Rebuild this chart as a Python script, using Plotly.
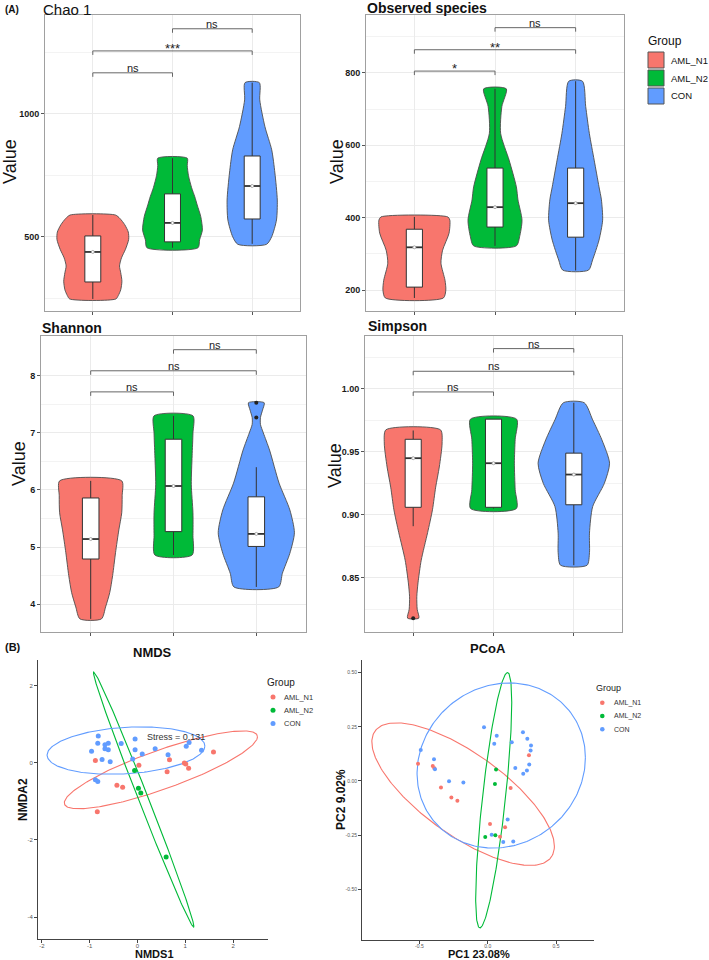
import numpy as np
import plotly.graph_objects as go

FIG_W, FIG_H = 709, 960
FONT = "Liberation Sans, Arial, Helvetica, sans-serif"

GROUPS = ["AML_N1", "AML_N2", "CON"]
COLORS = ["#F8766D", "#00BA38", "#619CFF"]
POS = [1, 2, 3]
SIG_PAIRS = [(1, 2), (1, 3), (2, 3)]

# ---------------- Panel A: alpha diversity ----------------
# violin outlines: value levels and full widths (category units)
CHAO_VY = [[248, 262, 285, 320, 355, 382, 415, 450, 490, 520, 550, 575, 589],
           [456, 488, 528, 582, 630, 663, 700, 750, 790, 820],
           [470, 501, 569, 650, 760, 854, 948, 1057, 1127]]
CHAO_VW = [[0.58, 0.64, 0.70, 0.73, 0.70, 0.67, 0.72, 0.82, 0.90, 0.89, 0.80, 0.68, 0.57],
           [0.64, 0.68, 0.75, 0.71, 0.62, 0.56, 0.48, 0.40, 0.37, 0.37],
           [0.36, 0.49, 0.61, 0.63, 0.57, 0.49, 0.32, 0.19, 0.18]]
CHAO_Q1 = [317, 480, 573]
CHAO_MED = [439, 557, 707]
CHAO_Q3 = [504, 675, 829]
CHAO_LO = [248, 456, 472]
CHAO_HI = [589, 820, 1127]
CHAO_SIG_Y = [1167, 1256, 1346]
CHAO_SIG_TXT = ["ns", "***", "ns"]
CHAO_TICKS = [500, 1000]
CHAO_MINOR = [250, 750, 1250]
CHAO_RANGE = [199, 1402]

OBS_VY = [[178, 200, 227, 274, 310, 357, 393, 402],
          [322, 347, 393, 449, 485, 559, 633, 707, 756],
          [255, 283, 338, 393, 449, 485, 559, 633, 707, 777]]
OBS_VW = [[0.72, 0.78, 0.76, 0.66, 0.70, 0.86, 0.88, 0.83],
          [0.53, 0.61, 0.67, 0.57, 0.53, 0.35, 0.14, 0.17, 0.28],
          [0.32, 0.42, 0.58, 0.67, 0.64, 0.58, 0.46, 0.34, 0.25, 0.17]]
OBS_Q1 = [208, 374, 346]
OBS_MED = [318, 429, 440]
OBS_Q3 = [368, 537, 537]
OBS_LO = [178, 322, 254]
OBS_HI = [402, 756, 777]
OBS_SIG_Y = [805, 864, 925]
OBS_SIG_TXT = ["*", "**", "ns"]
OBS_TICKS = [200, 400, 600, 800]
OBS_MINOR = [300, 500, 700, 900]
OBS_RANGE = [142, 960]

SHA_VY = [[3.74, 3.95, 4.20, 4.50, 4.90, 5.30, 5.60, 5.90, 6.16],
          [4.86, 5.20, 5.60, 6.10, 6.60, 7.00, 7.30],
          [4.30, 4.54, 4.89, 5.25, 5.65, 6.12, 6.70, 7.00, 7.15, 7.27, 7.40, 7.53]]
SHA_VW = [[0.26, 0.36, 0.46, 0.53, 0.60, 0.68, 0.75, 0.76, 0.75],
          [0.45, 0.47, 0.47, 0.43, 0.45, 0.47, 0.47],
          [0.54, 0.63, 0.81, 0.92, 0.81, 0.55, 0.32, 0.17, 0.10, 0.10, 0.15, 0.19]]
SHA_Q1 = [4.79, 5.27, 5.01]
SHA_MED = [5.14, 6.07, 5.23]
SHA_Q3 = [5.86, 6.89, 5.88]
SHA_LO = [3.74, 4.86, 4.30]
SHA_HI = [6.16, 7.30, 6.40]
SHA_OUT_X = [3, 3]
SHA_OUT_Y = [7.27, 7.53]
SHA_SIG_Y = [7.72, 8.09, 8.46]
SHA_SIG_TXT = ["ns", "ns", "ns"]
SHA_TICKS = [4, 5, 6, 7, 8]
SHA_MINOR = [4.5, 5.5, 6.5, 7.5]
SHA_RANGE = [3.51, 8.70]

SIM_VY = [[0.818, 0.825, 0.835, 0.846, 0.864, 0.886, 0.904, 0.922, 0.938, 0.957, 0.9675],
          [0.905, 0.920, 0.941, 0.960, 0.976],
          [0.860, 0.870, 0.8855, 0.9066, 0.925, 0.941, 0.9595, 0.9754, 0.989]]
SIM_VW = [[0.14, 0.10, 0.09, 0.12, 0.20, 0.36, 0.48, 0.56, 0.65, 0.72, 0.68],
          [0.57, 0.54, 0.52, 0.54, 0.575],
          [0.33, 0.39, 0.39, 0.47, 0.76, 0.89, 0.70, 0.47, 0.26]]
SIM_Q1 = [0.906, 0.906, 0.908]
SIM_MED = [0.945, 0.941, 0.932]
SIM_Q3 = [0.960, 0.976, 0.949]
SIM_LO = [0.891, 0.905, 0.860]
SIM_HI = [0.967, 0.976, 0.989]
SIM_OUT_X = [1]
SIM_OUT_Y = [0.818]
SIM_SIG_Y = [0.9976, 1.014, 1.032]
SIM_SIG_TXT = ["ns", "ns", "ns"]
SIM_TICKS = [0.85, 0.90, 0.95, 1.00]
SIM_MINOR = [0.825, 0.875, 0.925, 0.975, 1.025]
SIM_RANGE = [0.807, 1.042]

# ---------------- Panel B: beta diversity ----------------
NMDS_X = [[-0.88, 0.03, 0.67, 0.62, 0.98, 1.01, 1.07, 1.59, -0.43, -0.31, -0.84],
          [-0.06, 0.02, 0.07, 0.60],
          [-0.82, -0.96, -0.83, -0.68, -0.61, -0.68, -0.61, -0.74, -0.57, -0.34, -0.05,
           -0.05, -0.10, 0.10, 0.37, 0.64, 1.02, 1.08, 1.34, -0.88, -0.83]]
NMDS_Y = [[0.06, -0.06, 0.08, -0.23, 0.00, -0.03, -0.14, 0.28, -0.58, -0.63, -1.27],
          [-0.20, -0.66, -0.78, -2.44],
          [0.70, 0.30, 0.51, 0.47, 0.51, 0.37, 0.34, 0.09, 0.03, 0.50, 0.62,
           0.34, 0.10, 0.23, 0.37, 0.21, 0.43, 0.53, 0.33, -0.44, -0.48]]
# ellipses: centre, half x-extent, half y-extent, phase (deg)
NMDS_ELL_CX = [0.49, 0.13, -0.24]
NMDS_ELL_CY = [-0.18, -0.95, 0.32]
NMDS_ELL_W = [2.02, 1.05, 1.65]
NMDS_ELL_H = [1.01, 3.31, 0.615]
NMDS_ELL_PHI = [32, 174, 79]
NMDS_XTICKS = [-2, -1, 0, 1, 2]
NMDS_YTICKS = [-4, -2, 0, 2]
NMDS_XRANGE = [-2.08, 2.73]
NMDS_YRANGE = [-4.57, 2.67]
STRESS_TXT = "Stress = 0.131"
STRESS_POS = [0.8, 0.68]

PCOA_X = [[-0.510, -0.402, -0.390, 0.302, -0.342, -0.266, -0.222, 0.168, 0.017, 0.127, 0.090],
          [0.061, 0.053, -0.018, 0.056],
          [-0.027, 0.066, 0.048, 0.176, 0.258, 0.290, 0.317, 0.314, 0.304, 0.287, 0.260,
           0.202, -0.490, -0.393, -0.386, -0.283, -0.178, 0.146, 0.029, 0.114, 0.187]]
PCOA_Y = [[0.079, 0.069, 0.058, 0.118, -0.030, -0.077, -0.091, -0.033, -0.199, -0.214, -0.257],
          [0.053, -0.014, -0.259, -0.251],
          [0.248, 0.209, 0.172, 0.178, 0.225, 0.195, 0.163, 0.140, 0.076, 0.048, 0.033,
           0.060, 0.143, 0.100, 0.054, -0.002, -0.007, -0.178, -0.248, -0.282, -0.280]]
PCOA_ELL_CX = [-0.18, 0.044, 0.099]
PCOA_ELL_CY = [-0.061, -0.089, 0.071]
PCOA_ELL_W = [0.668, 0.132, 0.616]
PCOA_ELL_H = [0.329, 0.589, 0.381]
PCOA_ELL_PHI = [137, 40, 84.5]
PCOA_XTICKS = [-0.5, 0.0, 0.5]
PCOA_XTEXT = ["-0.5", "0.0", "0.5"]
PCOA_YTICKS = [-0.5, -0.25, 0.0, 0.25, 0.5]
PCOA_YTEXT = ["-0.50", "-0.25", "0.00", "0.25", "0.50"]
PCOA_XRANGE = [-0.92, 0.778]
PCOA_YRANGE = [-0.734, 0.558]


def fx(x):
    return x / FIG_W


def fy(y):
    return 1 - y / FIG_H


fig = go.Figure()
annotations = []
shapes = []


def ax_names(k):
    return ("x" if k == 1 else f"x{k}"), ("y" if k == 1 else f"y{k}")


def add_violin_panel(k, vy, vw, q1, med, q3, lo, hi, outx, outy, sig_y, sig_txt, yr):
    xa, ya = ax_names(k)
    for gi in range(3):
        c = POS[gi]
        ys = np.array(vy[gi], dtype=float)
        hw = np.array(vw[gi], dtype=float) / 2
        xs_poly = np.concatenate([c + hw, (c - hw)[::-1], [c + hw[0]]])
        ys_poly = np.concatenate([ys, ys[::-1], [ys[0]]])
        fig.add_trace(go.Scatter(x=xs_poly, y=ys_poly, mode="lines", fill="toself",
                                 fillcolor=COLORS[gi],
                                 line=dict(color="#4D4D4D", width=0.9, shape="spline", smoothing=0.7),
                                 hoverinfo="skip", showlegend=False, xaxis=xa, yaxis=ya))
    # whiskers
    wx, wy = [], []
    for c, a, b, d, e in zip(POS, lo, q1, q3, hi):
        wx += [c, c, None, c, c, None]
        wy += [a, b, None, d, e, None]
    fig.add_trace(go.Scatter(x=wx, y=wy, mode="lines", line=dict(color="#333333", width=1),
                             hoverinfo="skip", showlegend=False, xaxis=xa, yaxis=ya))
    # boxes
    for c, a, b in zip(POS, q1, q3):
        fig.add_trace(go.Scatter(x=[c - 0.1, c + 0.1, c + 0.1, c - 0.1, c - 0.1],
                                 y=[a, a, b, b, a], mode="lines", fill="toself", fillcolor="white",
                                 line=dict(color="#333333", width=1),
                                 hoverinfo="skip", showlegend=False, xaxis=xa, yaxis=ya))
    mx, my = [], []
    for c, m in zip(POS, med):
        mx += [c - 0.1, c + 0.1, None]
        my += [m, m, None]
    fig.add_trace(go.Scatter(x=mx, y=my, mode="lines", line=dict(color="#333333", width=1.8),
                             hoverinfo="skip", showlegend=False, xaxis=xa, yaxis=ya))
    fig.add_trace(go.Scatter(x=POS, y=med, mode="markers",
                             marker=dict(size=3, color="white", line=dict(color="#999999", width=0.8)),
                             hoverinfo="skip", showlegend=False, xaxis=xa, yaxis=ya))
    if outx:
        fig.add_trace(go.Scatter(x=outx, y=outy, mode="markers", marker=dict(size=4, color="#222222"),
                                 hoverinfo="skip", showlegend=False, xaxis=xa, yaxis=ya))
    tick = 0.0135 * (yr[1] - yr[0])
    bx, by = [], []
    for (a, b), yv, t in zip(SIG_PAIRS, sig_y, sig_txt):
        bx += [a, a, b, b, None]
        by += [yv - tick, yv, yv, yv - tick, None]
        star = t != "ns"
        annotations.append(dict(x=(a + b) / 2, y=yv, xref=xa, yref=ya, text=t, showarrow=False,
                                yanchor="bottom", yshift=-7 if star else -3,
                                font=dict(size=13 if star else 11, color="#222222", family=FONT)))
    fig.add_trace(go.Scatter(x=bx, y=by, mode="lines", line=dict(color="#666666", width=1),
                             hoverinfo="skip", showlegend=False, xaxis=xa, yaxis=ya))


def a_axes(k, box, yr, ticks, minor, fmt):
    l, t, r, b = box
    xa_key = "xaxis" if k == 1 else f"xaxis{k}"
    ya_key = "yaxis" if k == 1 else f"yaxis{k}"
    xa, ya = ax_names(k)
    common = dict(showline=True, mirror=True, linecolor="#A0A0A0", linewidth=1, zeroline=False,
                  ticks="outside", ticklen=3, tickcolor="#555555", tickwidth=1,
                  showgrid=True, gridcolor="#EBEBEB", gridwidth=1)
    fig.layout[xa_key] = dict(domain=[fx(l), fx(r)], range=[0.4, 3.6], tickvals=POS,
                              ticktext=["", "", ""], anchor=ya, **common)
    fig.layout[ya_key] = dict(domain=[fy(b), fy(t)], range=yr, tickvals=ticks,
                              ticktext=[fmt.format(v) for v in ticks], anchor=xa,
                              tickfont=dict(size=9, color="#1A1A1A", family=FONT, weight="bold"),
                              minor=dict(tickvals=minor, showgrid=True, gridcolor="#F3F3F3",
                                         gridwidth=0.6, ticks=""),
                              **common)


# Panel A
add_violin_panel(1, CHAO_VY, CHAO_VW, CHAO_Q1, CHAO_MED, CHAO_Q3, CHAO_LO, CHAO_HI, [], [],
                 CHAO_SIG_Y, CHAO_SIG_TXT, CHAO_RANGE)
a_axes(1, (45, 15, 300, 311), CHAO_RANGE, CHAO_TICKS, CHAO_MINOR, "{:.0f}")
add_violin_panel(2, OBS_VY, OBS_VW, OBS_Q1, OBS_MED, OBS_Q3, OBS_LO, OBS_HI, [], [],
                 OBS_SIG_Y, OBS_SIG_TXT, OBS_RANGE)
a_axes(2, (366, 15, 624, 311), OBS_RANGE, OBS_TICKS, OBS_MINOR, "{:.0f}")
add_violin_panel(3, SHA_VY, SHA_VW, SHA_Q1, SHA_MED, SHA_Q3, SHA_LO, SHA_HI, SHA_OUT_X, SHA_OUT_Y,
                 SHA_SIG_Y, SHA_SIG_TXT, SHA_RANGE)
a_axes(3, (41, 336, 306, 632), SHA_RANGE, SHA_TICKS, SHA_MINOR, "{:.0f}")
add_violin_panel(4, SIM_VY, SIM_VW, SIM_Q1, SIM_MED, SIM_Q3, SIM_LO, SIM_HI, SIM_OUT_X, SIM_OUT_Y,
                 SIM_SIG_Y, SIM_SIG_TXT, SIM_RANGE)
a_axes(4, (365, 336, 622, 632), SIM_RANGE, SIM_TICKS, SIM_MINOR, "{:.2f}")


# Panel B
def add_ord_panel(k, xs, ys, cx, cy, ew, eh, ephi, msize):
    xa, ya = ax_names(k)
    t = np.linspace(0, 2 * np.pi, 240)
    for gi in range(3):
        ph = np.deg2rad(ephi[gi])
        fig.add_trace(go.Scatter(x=cx[gi] + ew[gi] * np.cos(t), y=cy[gi] + eh[gi] * np.cos(t - ph),
                                 mode="lines", line=dict(color=COLORS[gi], width=1.1),
                                 hoverinfo="skip", showlegend=False, xaxis=xa, yaxis=ya))
    for gi in [0, 2, 1]:
        fig.add_trace(go.Scatter(x=xs[gi], y=ys[gi], mode="markers",
                                 marker=dict(size=msize, color=COLORS[gi]),
                                 hoverinfo="skip", showlegend=False, xaxis=xa, yaxis=ya))


def b_axes(k, box, xr, yr, xt, xtt, yt, ytt, fs):
    l, t, r, b = box
    xa_key = "xaxis" if k == 1 else f"xaxis{k}"
    ya_key = "yaxis" if k == 1 else f"yaxis{k}"
    xa, ya = ax_names(k)
    common = dict(showline=True, mirror=False, linecolor="#444444", linewidth=1, zeroline=False,
                  ticks="outside", ticklen=3, tickcolor="#444444", tickwidth=1, showgrid=False,
                  tickfont=dict(size=fs, color="#555555", family=FONT))
    fig.layout[xa_key] = dict(domain=[fx(l), fx(r)], range=xr, tickvals=xt, ticktext=xtt,
                              anchor=ya, ticklabelstandoff=-2, **common)
    fig.layout[ya_key] = dict(domain=[fy(b), fy(t)], range=yr, tickvals=yt, ticktext=ytt,
                              anchor=xa, **common)


add_ord_panel(5, NMDS_X, NMDS_Y, NMDS_ELL_CX, NMDS_ELL_CY, NMDS_ELL_W, NMDS_ELL_H, NMDS_ELL_PHI, 5)
b_axes(5, (38, 660, 268, 939), NMDS_XRANGE, NMDS_YRANGE, NMDS_XTICKS, [str(v) for v in NMDS_XTICKS],
       NMDS_YTICKS, [str(v) for v in NMDS_YTICKS], 6)
annotations.append(dict(x=STRESS_POS[0], y=STRESS_POS[1], xref="x5", yref="y5", text=STRESS_TXT,
                        showarrow=False, font=dict(size=9, color="#333333", family=FONT)))
add_ord_panel(6, PCOA_X, PCOA_Y, PCOA_ELL_CX, PCOA_ELL_CY, PCOA_ELL_W, PCOA_ELL_H, PCOA_ELL_PHI, 4)
b_axes(6, (362, 660, 594, 940), PCOA_XRANGE, PCOA_YRANGE, PCOA_XTICKS, PCOA_XTEXT,
       PCOA_YTICKS, PCOA_YTEXT, 5)


def text(x, y, s, size, bold=False, anchor="left", angle=0, color="#111111", va="middle"):
    annotations.append(dict(x=fx(x), y=fy(y), xref="paper", yref="paper", text=s, showarrow=False,
                            xanchor=anchor, yanchor=va, textangle=angle, borderpad=0,
                            font=dict(size=size, color=color, family=FONT,
                                      weight="bold" if bold else "normal")))


# titles / labels panel A
text(4, 9, "(A)", 10, bold=True)
text(42, 9, "Chao 1", 15)
text(366, 8, "Observed species", 14, bold=True)
text(41, 328, "Shannon", 14, bold=True)
text(367, 326, "Simpson", 14, bold=True)
text(10, 162, "Value", 18, anchor="center", angle=-90)
text(337, 162, "Value", 18, anchor="center", angle=-90)
text(19, 464, "Value", 18, anchor="center", angle=-90)
text(335, 466, "Value", 18, anchor="center", angle=-90)

# legend panel A
text(647, 41, "Group", 12)
for gi, (g, c) in enumerate(zip(GROUPS, COLORS)):
    yc = 60 + 18 * gi
    shapes.append(dict(type="rect", xref="paper", yref="paper", x0=fx(648), x1=fx(664),
                       y0=fy(yc + 8), y1=fy(yc - 8), fillcolor=c, line=dict(color="#555555", width=1)))
    text(670, yc, g, 9.5)

# panel B labels
text(4, 647, "(B)", 11, bold=True)
text(152, 652, "NMDS", 13, bold=True, anchor="center")
text(488, 648, "PCoA", 13, bold=True, anchor="center")
text(154, 953.5, "NMDS1", 11, bold=True, anchor="center")
text(23, 800, "NMDA2", 12, bold=True, anchor="center", angle=-90)
text(479, 953.5, "PC1 23.08%", 11, bold=True, anchor="center")
text(341, 800, "PC2 9.02%", 12, bold=True, anchor="center", angle=-90)

# legends panel B
text(266, 682, "Group", 10, color="#222222")
for gi, (g, c) in enumerate(zip(GROUPS, COLORS)):
    yc = 697 + 13.3 * gi
    shapes.append(dict(type="circle", xref="paper", yref="paper", x0=fx(270.5), x1=fx(275.5),
                       y0=fy(yc + 2.5), y1=fy(yc - 2.5), fillcolor=c, line=dict(width=0)))
    text(283, yc, g, 7.5, color="#333333")
text(595, 688, "Group", 9, color="#222222")
for gi, (g, c) in enumerate(zip(GROUPS, COLORS)):
    yc = 702.7 + 13.3 * gi
    shapes.append(dict(type="circle", xref="paper", yref="paper", x0=fx(600), x1=fx(604.6),
                       y0=fy(yc + 2.3), y1=fy(yc - 2.3), fillcolor=c, line=dict(width=0)))
    text(613, yc, g, 7, color="#333333")

fig.update_layout(width=FIG_W, height=FIG_H, autosize=False,
                  margin=dict(l=0, r=0, t=0, b=0), paper_bgcolor="white", plot_bgcolor="white",
                  showlegend=False, font=dict(family=FONT),
                  annotations=annotations, shapes=shapes)
fig.write_html("out.html", config={"displayModeBar": False},
               post_script="document.body.style.margin='0px';document.body.style.padding='0px';")
